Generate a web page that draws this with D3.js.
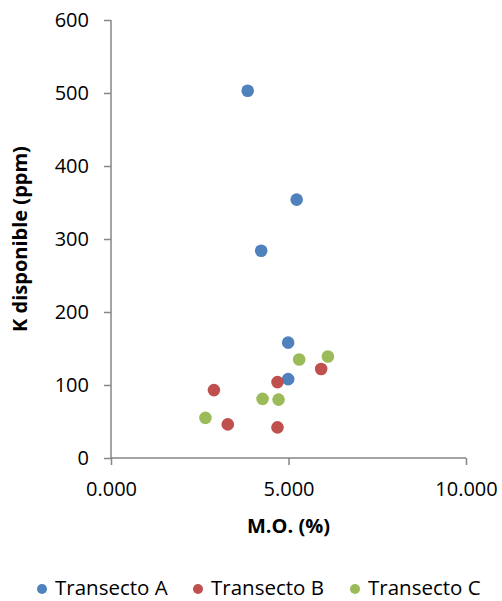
<!DOCTYPE html>
<html>
<head>
<meta charset="utf-8">
<script src="https://cdn.jsdelivr.net/npm/d3@7"></script>
<style>
  body { margin: 0; background: #fff; }
  text { font-family: "Open Sans", sans-serif; fill: #000; }
</style>
</head>
<body>
<svg width="502" height="601"></svg>
<script>
// data
const seriesNames = ["Transecto A", "Transecto B", "Transecto C"];
const colors = ["#4F81BD", "#C0504D", "#9BBB59"];
const moA = [3.85, 5.23, 4.23, 4.99, 4.99];
const kA  = [503, 354, 284, 158, 108];
const moB = [5.92, 4.69, 2.90, 3.29, 4.69];
const kB  = [122, 104, 93, 46, 42];
const moC = [5.30, 6.11, 4.27, 4.72, 2.66];
const kC  = [135, 139, 81, 80, 55];
const xTicks = [0, 5, 10];
const yTicks = [0, 100, 200, 300, 400, 500, 600];

const svg = d3.select("svg");

const x = d3.scaleLinear().domain([0, 10]).range([111, 466]);
const y = d3.scaleLinear().domain([0, 600]).range([458, 20]);

const series = [
  { name: seriesNames[0], color: colors[0], xs: moA, ys: kA },
  { name: seriesNames[1], color: colors[1], xs: moB, ys: kB },
  { name: seriesNames[2], color: colors[2], xs: moC, ys: kC }
];

// axes
const yAxis = svg.append("g")
    .attr("transform", "translate(111,0)")
    .call(d3.axisLeft(y).tickValues(yTicks).tickSize(7).tickPadding(15).tickFormat(d3.format("d")));

const xAxis = svg.append("g")
    .attr("transform", "translate(0,458)")
    .call(d3.axisBottom(x).tickValues(xTicks).tickSize(7).tickPadding(17).tickFormat(d3.format(".3f")));

[xAxis, yAxis].forEach(g => {
  g.select(".domain").attr("stroke", "#868686").attr("stroke-width", 1.5);
  g.selectAll(".tick line").attr("stroke", "#868686").attr("stroke-width", 1.5);
  g.selectAll(".tick text")
    .style("font-family", "'Open Sans', sans-serif")
    .style("font-size", "20px")
    .attr("fill", "#000");
});
// d3 draws the domain with outer ticks; redraw plain lines
yAxis.select(".domain").attr("d", `M0,${y(600)}V${y(0)}`);
xAxis.select(".domain").attr("d", `M${x(0)},0H${x(10)}`);

// axis titles
svg.append("text")
    .attr("x", (x(0) + x(10)) / 2)
    .attr("y", 533)
    .attr("text-anchor", "middle")
    .style("font-size", "20px")
    .style("font-weight", "bold")
    .text("M.O. (%)");

svg.append("text")
    .attr("transform", `translate(27,${(y(0) + y(600)) / 2}) rotate(-90)`)
    .attr("text-anchor", "middle")
    .style("font-size", "20px")
    .style("font-weight", "bold")
    .text("K disponible (ppm)");

// points
series.forEach(s => {
  svg.append("g")
    .selectAll("circle")
    .data(s.xs.map((v, i) => [v, s.ys[i]]))
    .join("circle")
      .attr("cx", d => x(d[0]))
      .attr("cy", d => y(d[1]))
      .attr("r", 6.3)
      .attr("fill", s.color);
});

// legend
const legendX = [42, 198, 355];
const legend = svg.append("g")
    .selectAll("g")
    .data(series)
    .join("g")
      .attr("transform", (d, i) => `translate(${legendX[i]},589)`);
legend.append("circle").attr("r", 5).attr("fill", d => d.color);
legend.append("text")
    .attr("x", 13)
    .attr("y", 6)
    .style("font-size", "20.5px")
    .text(d => d.name);
</script>
</body>
</html>
